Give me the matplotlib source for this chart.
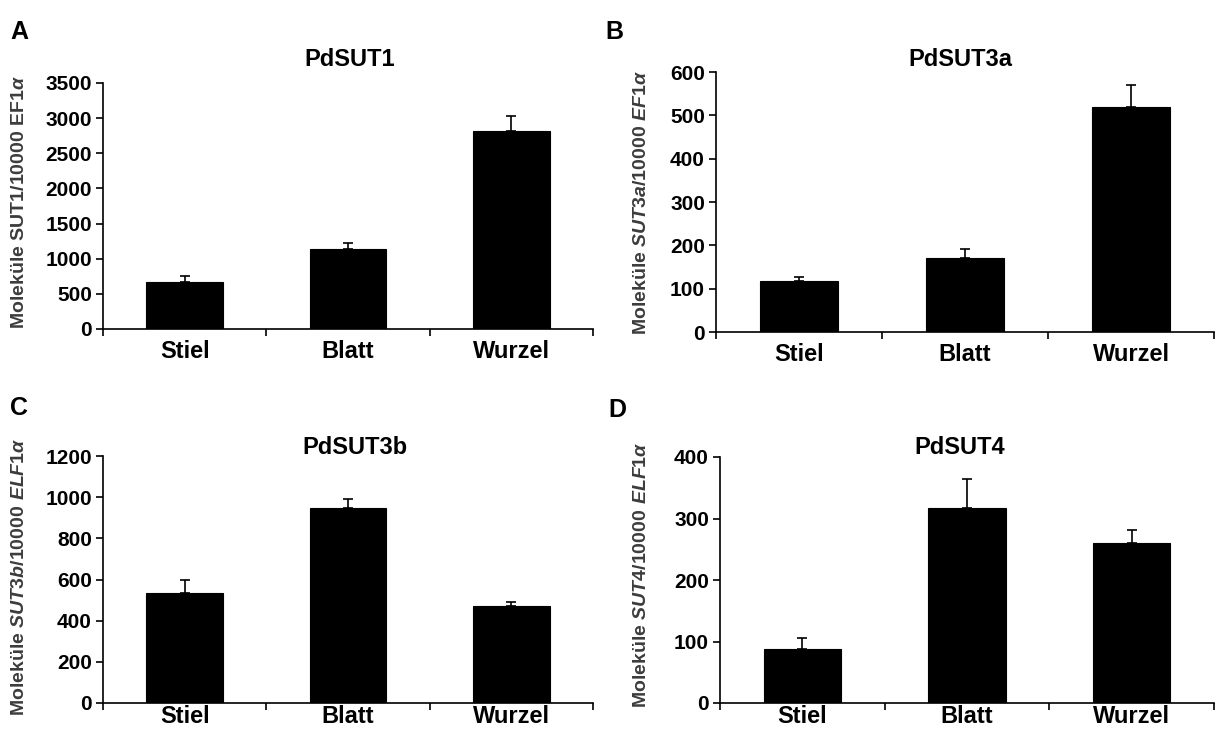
import matplotlib
matplotlib.use('Agg')
import matplotlib.pyplot as plt

# - Data
tissues = ['Stiel', 'Blatt', 'Wurzel']

sut1_mean = [674, 1135, 2810]
sut1_err = [81, 86, 224]

sut3a_mean = [117, 170, 519]
sut3a_err = [10, 22, 51]

sut3b_mean = [534, 946, 471]
sut3b_err = [64, 47, 18]

sut4_mean = [88, 317, 260]
sut4_err = [17, 47, 21]

plt.rcParams['font.family'] = ['Liberation Sans', 'DejaVu Sans']
plt.rcParams['mathtext.fontset'] = 'custom'
plt.rcParams['mathtext.rm'] = 'Liberation Sans:bold'
plt.rcParams['mathtext.it'] = 'Liberation Sans:italic:bold'
plt.rcParams['mathtext.bf'] = 'Liberation Sans:bold'

W, H = 1216, 736
fig = plt.figure(figsize=(W / 100, H / 100), dpi=100)


def px_axes(x0, ytop, x1, ybot):
    return fig.add_axes([x0 / W, 1 - ybot / H, (x1 - x0) / W, (ybot - ytop) / H])


panels = [
    # letter, title, ylabel, means, errs, ymax, step, box(px), letter pos, title pos,
    # ylabel pos, x label pad
    ('A', 'PdSUT1', r'Moleküle SUT1/10000 EF1$\alpha$', sut1_mean, sut1_err,
     3500, 500, (103, 83, 593, 329), (19, 32), (350, 60), (20, 202), 8),
    ('B', 'PdSUT3a', r'Moleküle $\mathit{SUT3a/10000\ EF1\alpha}$', sut3a_mean, sut3a_err,
     600, 100, (716, 72, 1214, 332), (614, 32), (960, 60), (641, 202), 8),
    ('C', 'PdSUT3b', r'Moleküle $\mathit{SUT3b/10000\ ELF1\alpha}$', sut3b_mean, sut3b_err,
     1200, 200, (103, 456, 593, 703), (19, 408), (355, 447), (20, 577), 1.5),
    ('D', 'PdSUT4', r'Moleküle $\mathit{SUT4/10000\ ELF1\alpha}$', sut4_mean, sut4_err,
     400, 100, (720, 457, 1214, 703), (617, 410), (960, 447), (641, 575), 1.5),
]

for letter, title, ylabel, means, errs, ymax, step, box, lpos, tpos, ypos, xpad in panels:
    ax = px_axes(*box)
    x = list(range(len(tissues)))
    ax.bar(x, means, width=0.47, color='black', edgecolor='black', lw=0.8, zorder=2)
    ax.errorbar(x, means, yerr=[[0] * len(errs), errs], fmt='none', ecolor='black',
                elinewidth=1.2, capsize=3.5, capthick=1.2, zorder=1)

    ax.set_xlim(-0.5, len(tissues) - 0.5)
    ax.set_ylim(0, ymax)
    ax.set_yticks(range(0, ymax + 1, step))
    ax.set_xticks(x)
    ax.set_xticklabels(tissues)
    ax.set_xticks([i - 0.5 for i in range(len(tissues) + 1)], minor=True)

    ax.tick_params(axis='x', which='major', length=0, pad=xpad, labelsize=17)
    ax.tick_params(axis='x', which='minor', length=5, width=1.2, direction='out')
    ax.tick_params(axis='y', length=5, width=1.2, direction='out', labelsize=15, pad=3)
    for lab in ax.get_xticklabels() + ax.get_yticklabels():
        lab.set_fontweight('bold')

    for side in ('top', 'right'):
        ax.spines[side].set_visible(False)
    for side in ('left', 'bottom'):
        ax.spines[side].set_linewidth(1.2)

    fig.text(lpos[0] / W, 1 - lpos[1] / H, letter, fontsize=18, fontweight='bold',
             ha='center', va='center')
    fig.text(tpos[0] / W, 1 - tpos[1] / H, title, fontsize=17, fontweight='bold',
             ha='center', va='center')
    fig.text(ypos[0] / W, 1 - ypos[1] / H, ylabel, fontsize=14, fontweight='bold',
             color='#3c3c3c', rotation=90, ha='center', va='center')

plt.savefig('out.png', dpi=100)
